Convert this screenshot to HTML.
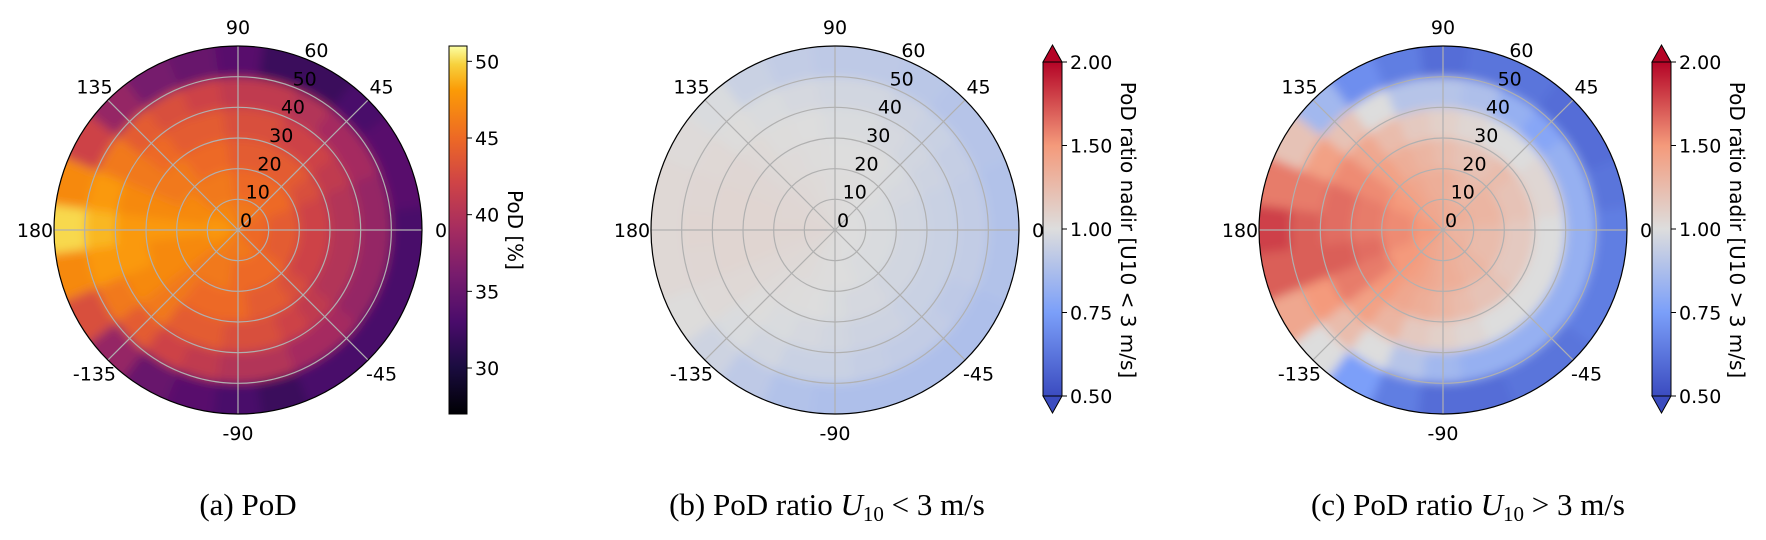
<!DOCTYPE html>
<html><head><meta charset="utf-8">
<style>
html,body{margin:0;padding:0;background:#fff;}
svg{display:block;}
text{font-family:"DejaVu Sans","Liberation Sans",sans-serif;}
.cap{font-family:"Liberation Serif",serif;font-size:31px;}
</style></head>
<body>
<svg id="fig" width="1766" height="540" viewBox="0 0 1766 540">
<defs>
<filter id="blur" x="-10%" y="-10%" width="120%" height="120%"><feGaussianBlur stdDeviation="5"/></filter>
<linearGradient id="infernoGrad" x1="0" y1="1" x2="0" y2="0">
<stop offset="0" stop-color="#000004"/><stop offset="0.13" stop-color="#1b0c41"/><stop offset="0.25" stop-color="#4a0c6b"/><stop offset="0.38" stop-color="#781c6d"/><stop offset="0.5" stop-color="#a52c60"/><stop offset="0.63" stop-color="#cf4446"/><stop offset="0.75" stop-color="#ed6925"/><stop offset="0.88" stop-color="#fb9b06"/><stop offset="0.95" stop-color="#f7d13d"/><stop offset="1" stop-color="#fcffa4"/>
</linearGradient>
<linearGradient id="cwGrad" x1="0" y1="1" x2="0" y2="0">
<stop offset="0" stop-color="#3b4cc0"/><stop offset="0.25" stop-color="#7b9ff9"/><stop offset="0.5" stop-color="#dddddd"/><stop offset="0.75" stop-color="#f49a7b"/><stop offset="1" stop-color="#b40426"/>
</linearGradient>
</defs>
<text class="cap" x="248" y="515" text-anchor="middle">(a) PoD</text>
<text class="cap" x="827" y="515" text-anchor="middle">(b) PoD ratio <tspan font-style="italic">U</tspan><tspan font-size="21" dy="6">10</tspan><tspan dy="-6"> &lt; 3 m/s</tspan></text>
<text class="cap" x="1468" y="515" text-anchor="middle">(c) PoD ratio <tspan font-style="italic">U</tspan><tspan font-size="21" dy="6">10</tspan><tspan dy="-6"> &gt; 3 m/s</tspan></text>
</svg>
<script>
// angle sector centres (deg), radial bins (upper edge)
const angles = [0,15,30,45,60,75,90,105,120,135,150,165,180,195,210,225,240,255,270,285,300,315,330,345];
const radii = [10,20,30,40,50,60];
const podValues = [
 [45,45,45,46,46,46,46,46,47,47,47,48,48,48,47,47,46,46,46,46,46,45,45,45],
 [44,44,45,45,45,45,45,46,46,46,47,47,48,47,47,46,46,46,45,45,45,45,44,44],
 [42,42,43,44,44,44,44,45,45,46,46,47,48,47,47,46,45,45,45,44,44,43,42,42],
 [40,40,41,42,42,43,43,44,44,45,46,47,48,48,47,46,44,44,43,43,42,41,40,40],
 [38,38,39,39,40,41,41,42,43,44,46,48,49,48,46,44,42,41,40,40,39,39,38,38],
 [33,34,34,33,32,32,34,35,36,38,42,47,50,47,43,38,35,34,33,32,33,33,33,33]
];
const ratioLowValues = [
 [1.0,1.0,1.0,1.0,1.01,1.01,1.02,1.02,1.03,1.04,1.04,1.05,1.05,1.05,1.04,1.03,1.02,1.01,1.01,1.0,1.0,1.0,1.0,1.0],
 [0.99,0.99,0.99,1.0,1.0,1.01,1.01,1.02,1.03,1.04,1.05,1.05,1.06,1.05,1.04,1.03,1.02,1.01,1.0,1.0,0.99,0.99,0.99,0.99],
 [0.97,0.97,0.98,0.99,1.0,1.0,1.0,1.01,1.02,1.03,1.05,1.06,1.06,1.06,1.04,1.02,1.01,1.0,0.99,0.98,0.98,0.97,0.97,0.97],
 [0.95,0.95,0.96,0.97,0.98,0.99,0.99,1.0,1.01,1.03,1.05,1.06,1.06,1.06,1.04,1.01,0.99,0.98,0.97,0.96,0.96,0.95,0.95,0.95],
 [0.93,0.93,0.94,0.95,0.96,0.97,0.97,0.98,0.99,1.01,1.04,1.05,1.06,1.05,1.03,0.99,0.97,0.95,0.95,0.94,0.93,0.93,0.92,0.93],
 [0.89,0.89,0.9,0.9,0.91,0.92,0.92,0.93,0.95,0.99,1.02,1.04,1.04,1.04,1.01,0.96,0.92,0.89,0.88,0.88,0.88,0.88,0.88,0.89]
];
const ratioHighValues = [
 [1.3,1.3,1.35,1.35,1.35,1.35,1.35,1.4,1.4,1.4,1.45,1.5,1.5,1.5,1.45,1.45,1.4,1.4,1.35,1.35,1.35,1.35,1.3,1.3],
 [1.25,1.3,1.3,1.3,1.25,1.3,1.35,1.35,1.4,1.45,1.5,1.55,1.55,1.55,1.5,1.5,1.45,1.4,1.35,1.35,1.3,1.3,1.25,1.25],
 [1.15,1.2,1.2,1.25,1.2,1.2,1.25,1.3,1.35,1.45,1.55,1.6,1.6,1.65,1.6,1.5,1.4,1.35,1.3,1.25,1.2,1.2,1.15,1.15],
 [1.0,1.05,1.05,1.0,1.0,1.05,1.1,1.15,1.25,1.4,1.55,1.65,1.65,1.7,1.6,1.45,1.3,1.15,1.1,1.05,1.0,1.0,1.0,1.0],
 [0.82,0.82,0.82,0.78,0.82,0.88,0.9,0.9,1.0,1.2,1.45,1.6,1.7,1.7,1.5,1.25,1.0,0.9,0.85,0.82,0.82,0.82,0.82,0.82],
 [0.65,0.62,0.6,0.6,0.62,0.62,0.6,0.65,0.7,0.85,1.2,1.6,1.8,1.7,1.4,1.0,0.75,0.65,0.6,0.6,0.62,0.62,0.65,0.65]
];
const angleTicks = [0,45,90,135,180,-135,-90,-45];
const radialTicks = [0,10,20,30,40,50,60];
const podTicks = [30,35,40,45,50];
const ratioTicks = [0.5,0.75,1.0,1.5,2.0];

const NS = "http://www.w3.org/2000/svg";
const svg = document.getElementById('fig');
function mk(tag, attrs, parent){const e=document.createElementNS(NS,tag);for(const k in attrs)e.setAttribute(k,attrs[k]);(parent||svg).appendChild(e);return e;}

const infernoStops=[[0,[0,0,4]],[0.13,[27,12,65]],[0.25,[74,12,107]],[0.38,[120,28,109]],[0.5,[165,44,96]],[0.63,[207,68,70]],[0.75,[237,105,37]],[0.88,[251,155,6]],[0.95,[247,209,61]],[1,[252,255,164]]];
const cwStops=[[0,[59,76,192]],[0.25,[123,159,249]],[0.5,[221,221,221]],[0.75,[244,154,123]],[1,[180,4,38]]];
function cmap(stops,t){t=Math.max(0,Math.min(1,t));for(let i=1;i<stops.length;i++){if(t<=stops[i][0]){const a=stops[i-1],b=stops[i];const f=(t-a[0])/(b[0]-a[0]);return 'rgb('+a[1].map((v,j)=>Math.round(v+(b[1][j]-v)*f)).join(',')+')';}}return 'rgb('+stops[stops.length-1][1].join(',')+')';}
const normPod = v => (v-27)/(51-27);
const normRatio = v => v>=1 ? 0.5+(v-1)/2 : 0.5-(1-v)/1;

const R=184, RMAX=60;
function panel(id,cx,cy,values,norm,stops){
  const clipId='clip-'+id;
  const cp=mk('clipPath',{id:clipId});
  mk('circle',{cx:cx,cy:cy,r:R},cp);
  const outer=mk('g',{'clip-path':'url(#'+clipId+')'});
  
  
  const g=mk('g',{filter:'url(#blur)'},outer);
  const rs = v => v/RMAX*R;
  values.forEach((row,ri)=>{
    const r0=ri===0?0:rs(radii[ri-1]);
    let r1=rs(radii[ri]); if(ri===radii.length-1) r1=rs(radii[ri])+20;
    row.forEach((val,ai)=>{
      const a0=(angles[ai]-7.6)*Math.PI/180, a1=(angles[ai]+7.6)*Math.PI/180;
      const p=(r,a)=>(cx+r*Math.cos(a)).toFixed(2)+','+(cy-r*Math.sin(a)).toFixed(2);
      const d='M'+p(r0,a0)+' L'+p(r1,a0)+' A'+r1+','+r1+' 0 0 0 '+p(r1,a1)+' L'+p(r0,a1)+(r0>0?' A'+r0+','+r0+' 0 0 1 '+p(r0,a0):'')+' Z';
      const c=mk('path',{d:d,fill:cmap(stops,norm(val)),stroke:cmap(stops,norm(val)),'stroke-width':1},g);
      
      
    });
  });
  const grid=mk('g',{stroke:'#b0b0b0','stroke-width':1.2,fill:'none'});
  
  
  radialTicks.slice(1,-1).forEach(v=>mk('circle',{cx:cx,cy:cy,r:rs(v)},grid));
  angleTicks.forEach(a=>{const t=a*Math.PI/180;mk('line',{x1:cx,y1:cy,x2:cx+R*Math.cos(t),y2:cy-R*Math.sin(t)},grid);});
  const b=mk('circle',{cx:cx,cy:cy,r:R,fill:'none',stroke:'#000','stroke-width':1.2});
  
  
  angleTicks.forEach(a=>{const t=a*Math.PI/180;const tx=mk('text',{x:cx+203*Math.cos(t),y:cy-203*Math.sin(t)+7,'font-size':19,'text-anchor':'middle'});tx.textContent=String(a);
    
    });
  radialTicks.forEach(v=>{const t=67.5*Math.PI/180;const r=rs(v);const tx=mk('text',{x:cx+r*Math.cos(t)+8,y:cy-r*Math.sin(t)-3,'font-size':19,'text-anchor':'middle'});tx.textContent=String(v);
    
    });
}
panel('panel-a',238,230,podValues,normPod,infernoStops);
panel('panel-b',835,230,ratioLowValues,normRatio,cwStops);
panel('panel-c',1443,230,ratioHighValues,normRatio,cwStops);

(function(){
  const x=449,w=18,top=46,bot=414;
  const ypos=v=>bot-(v-27)/(51-27)*(bot-top);
  const r=mk('rect',{x:x,y:top,width:w,height:bot-top,fill:'url(#infernoGrad)',stroke:'#000','stroke-width':1});
  
  
  podTicks.forEach(v=>{const y=ypos(v);mk('line',{x1:x+w,x2:x+w+5,y1:y,y2:y,stroke:'#000'});const t=mk('text',{x:x+w+8,y:y+7,'font-size':19});t.textContent=String(v);
    
    });
  const l=mk('text',{x:0,y:0,'font-size':20,'text-anchor':'middle',transform:'translate(508,230) rotate(90)'});l.textContent='PoD [%]';
  
  
})();
function ratioBar(x,label,name){
  const w=19,top=62,bot=396,mid=229;
  const ypos=v=>v>=1? mid-(v-1)/1*(mid-top) : mid+(1-v)/0.5*(bot-mid);
  const g=mk('g',{});
  
  
  mk('polygon',{points:`${x},${top} ${x+w/2},45 ${x+w},${top}`,fill:'#b40426',stroke:'#000','stroke-width':1},g);
  mk('polygon',{points:`${x},${bot} ${x+w/2},413 ${x+w},${bot}`,fill:'#3b4cc0',stroke:'#000','stroke-width':1},g);
  mk('rect',{x:x,y:top,width:w,height:bot-top,fill:'url(#cwGrad)',stroke:'#000','stroke-width':1},g);
  ratioTicks.forEach(v=>{const y=ypos(v);mk('line',{x1:x+w,x2:x+w+5,y1:y,y2:y,stroke:'#000'},g);const t=mk('text',{x:x+w+8,y:y+7,'font-size':19},g);t.textContent=v.toFixed(2);
    
    });
  const l=mk('text',{x:0,y:0,'font-size':20,'text-anchor':'middle',transform:`translate(${x+78},230) rotate(90)`},g);l.textContent=label;
  
  
}
ratioBar(1043,'PoD ratio nadir [U10 < 3 m/s]','colorbar-b');
ratioBar(1652,'PoD ratio nadir [U10 > 3 m/s]','colorbar-c');
</script>
</body></html>
